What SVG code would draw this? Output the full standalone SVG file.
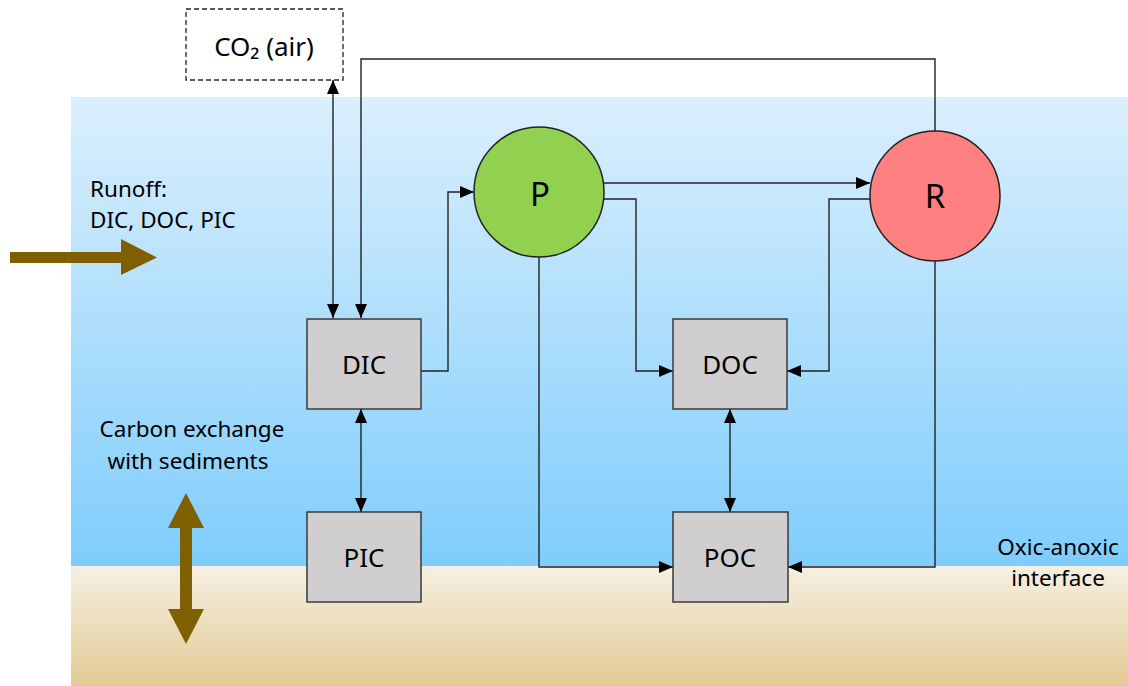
<svg xmlns="http://www.w3.org/2000/svg" width="1128" height="686" viewBox="0 0 1128 686">
<defs>
<linearGradient id="water" x1="0" y1="0" x2="0" y2="1">
<stop offset="0" stop-color="#dbeffd"/>
<stop offset="1" stop-color="#7fcdfc"/>
</linearGradient>
<linearGradient id="sand" x1="0" y1="0" x2="0" y2="1">
<stop offset="0" stop-color="#f6efe3"/>
<stop offset="1" stop-color="#e2cb94"/>
</linearGradient>
<marker id="ah" viewBox="0 0 14 12" refX="14" refY="6" markerWidth="14" markerHeight="12" markerUnits="userSpaceOnUse" orient="auto-start-reverse">
<path d="M0,0 L14,6 L0,12 Z" fill="#000"/>
</marker>
</defs>
<style>
text{font-family:"Noto Sans","Liberation Sans",sans-serif;fill:#000}
.box{fill:#d0cece;stroke:#3a3a3a;stroke-width:1.5}
.lbl{font-size:26px;text-anchor:middle}
.note{font-size:22.5px}
.cn{fill:none;stroke:#222;stroke-width:1.4}
.brown{fill:#7f6000}
</style>
<rect x="71" y="97" width="1057" height="469" fill="url(#water)"/>
<rect x="71" y="566" width="1057" height="120" fill="url(#sand)"/>

<g id="runoff">
<path class="brown" d="M10,252 H121 V239 L157,257.5 L121,275 V263 H10 Z"/>
<text class="note" x="90" y="197">Runoff:</text>
<text class="note" x="90" y="228">DIC, DOC, PIC</text>
</g>
<g id="sediment-exchange">
<path class="brown" d="M186,493 L204,528 H192 V609 H204 L186,644 L168,609 H180 V528 H168 Z"/>
<text class="note" x="192" y="437" text-anchor="middle">Carbon exchange</text>
<text class="note" x="188" y="469" text-anchor="middle">with sediments</text>
</g>
<g id="interface-label">
<text class="note" x="1058" y="555" text-anchor="middle">Oxic-anoxic</text>
<text class="note" x="1058" y="586" text-anchor="middle">interface</text>
</g>

<g id="connectors">
<path class="cn" d="M333,80 V318" marker-start="url(#ah)" marker-end="url(#ah)"/>
<path class="cn" d="M935,131 V59 H361 V318" marker-end="url(#ah)"/>
<path class="cn" d="M421,371 H448 V192 H474" marker-end="url(#ah)"/>
<path class="cn" d="M603,183 H870" marker-end="url(#ah)"/>
<path class="cn" d="M601,199 H636 V371 H673" marker-end="url(#ah)"/>
<path class="cn" d="M872,199 H829 V371 H787" marker-end="url(#ah)"/>
<path class="cn" d="M361,409 V512" marker-start="url(#ah)" marker-end="url(#ah)"/>
<path class="cn" d="M730,409 V512" marker-start="url(#ah)" marker-end="url(#ah)"/>
<path class="cn" d="M539,257 V567 H673" marker-end="url(#ah)"/>
<path class="cn" d="M935,261 V567 H788" marker-end="url(#ah)"/>
</g>

<g id="co2">
<rect x="186" y="9" width="157" height="71" fill="#fff" stroke="#222" stroke-width="1.3" stroke-dasharray="5,3"/>
<text x="264" y="56" font-size="26" text-anchor="middle">CO₂ (air)</text>
</g>
<g id="P">
<circle cx="539" cy="192" r="65" fill="#92d050" stroke="#222" stroke-width="1.5"/>
<text x="540" y="206" font-size="33" text-anchor="middle">P</text>
</g>
<g id="R">
<circle cx="935" cy="196" r="65" fill="#ff8080" stroke="#222" stroke-width="1.5"/>
<text x="935" y="208" font-size="33" text-anchor="middle">R</text>
</g>
<g id="DIC">
<rect class="box" x="307" y="319" width="114" height="90"/>
<text class="lbl" x="364" y="374">DIC</text>
</g>
<g id="PIC">
<rect class="box" x="307" y="512" width="114" height="90"/>
<text class="lbl" x="364" y="567">PIC</text>
</g>
<g id="DOC">
<rect class="box" x="673" y="319" width="114" height="90"/>
<text class="lbl" x="730" y="374">DOC</text>
</g>
<g id="POC">
<rect class="box" x="673" y="512" width="115" height="90"/>
<text class="lbl" x="730" y="567">POC</text>
</g>
</svg>
